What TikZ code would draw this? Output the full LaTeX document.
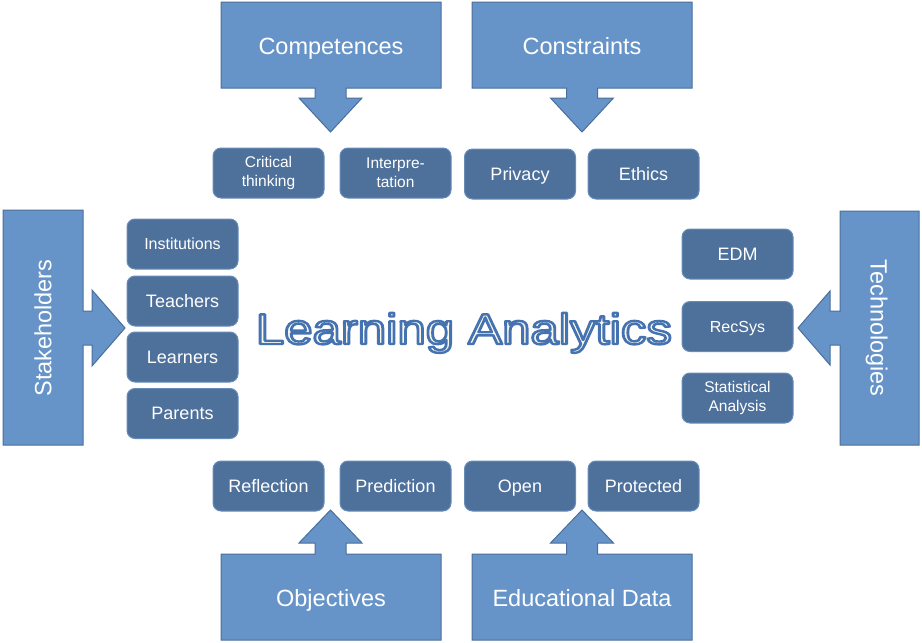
\documentclass[tikz,border=0pt]{standalone}
\usepackage{fontspec}
\setmainfont{Liberation Sans}
\definecolor{callfill}{RGB}{103,148,200}
\definecolor{calldraw}{RGB}{74,110,155}
\definecolor{boxfill}{RGB}{78,113,156}
\definecolor{boxdraw}{RGB}{104,140,185}
\definecolor{latext}{RGB}{250,248,236}
\begin{document}
\begin{tikzpicture}[x=1pt,y=-1pt,
  callout/.style={fill=callfill,draw=calldraw,line width=1pt,line join=miter},
  item/.style={fill=boxfill,draw=boxdraw,rounded corners=8pt,line width=1pt,
    minimum width=111pt,minimum height=50pt,inner sep=0pt,text=white,align=center},
  itemtext/.style={font=\fontsize{18}{18}\selectfont,text height=12.9pt,text depth=0pt},
  itemmid/.style={font=\fontsize{16}{16}\selectfont,text height=11.5pt,text depth=0pt},
  itemsmall/.style={font=\fontsize{15.5}{19}\selectfont},
  bigtext/.style={text=white,font=\fontsize{23.5}{26}\selectfont,inner sep=0pt,
    text height=16.8pt,text depth=0pt}]
\useasboundingbox (0,0) rectangle (922,643);

% ---- callouts ----
% Competences
\path[callout] (221,2) -- (441,2) -- (441,88) -- (346,88) -- (346,98) -- (362,98)
  -- (330.5,132) -- (299,98) -- (315,98) -- (315,88) -- (221,88) -- cycle;
\node[bigtext] (comp) at (331,46) {Competences};
% Constraints
\path[callout] (472,2) -- (692,2) -- (692,88) -- (597.5,88) -- (597.5,98) -- (613.5,98)
  -- (582,132) -- (550.5,98) -- (566.5,98) -- (566.5,88) -- (472,88) -- cycle;
\node[bigtext] (cons) at (582,46) {Constraints};
% Objectives
\path[callout] (221,640) -- (441,640) -- (441,554) -- (346,554) -- (346,543) -- (362,543)
  -- (330.5,510) -- (299,543) -- (315,543) -- (315,554) -- (221,554) -- cycle;
\node[bigtext] (obj) at (331,598) {Objectives};
% Educational Data
\path[callout] (472,640) -- (692,640) -- (692,554) -- (597.5,554) -- (597.5,543) -- (613.5,543)
  -- (582,510) -- (550.5,543) -- (566.5,543) -- (566.5,554) -- (472,554) -- cycle;
\node[bigtext] (edu) at (582,598) {Educational Data};
% Stakeholders
\path[callout] (3,210) -- (83,210) -- (83,311) -- (92,311) -- (92,290) -- (125,328)
  -- (92,366) -- (92,345) -- (83,345) -- (83,445) -- (3,445) -- cycle;
\node[bigtext,rotate=90] (stake) at (43,328) {Stakeholders};
% Technologies
\path[callout] (919,211) -- (840,211) -- (840,311) -- (830,311) -- (830,291) -- (798,328)
  -- (830,365) -- (830,345) -- (840,345) -- (840,445) -- (919,445) -- cycle;
\node[bigtext,rotate=-90] (tech) at (879,328) {Technologies};

% ---- top items ----
\node[item,itemsmall] (crit) at (268.5,173) {Critical\\thinking};
\node[item,itemsmall] (interp) at (395.5,173) {Interpre-\\tation};
\node[item,itemtext] (priv) at (520,174) {Privacy};
\node[item,itemtext] (eth) at (643.5,174) {Ethics};

% ---- bottom items ----
\node[item,itemtext] (refl) at (268.5,486) {Reflection};
\node[item,itemtext] (pred) at (395.5,486) {Prediction};
\node[item,itemtext] (open) at (520,486) {Open};
\node[item,itemtext] (prot) at (643.5,486) {Protected};

% ---- left items ----
\node[item,itemmid] (inst) at (182.5,244) {Institutions};
\node[item,itemtext] (teach) at (182.5,301) {Teachers};
\node[item,itemtext] (learn) at (182.5,357) {Learners};
\node[item,itemtext] (par) at (182.5,413.5) {Parents};

% ---- right items ----
\node[item,itemtext] (edm) at (737.5,254) {EDM};
\node[item,itemmid] (rec) at (737.5,326.5) {RecSys};
\node[item,itemsmall] (stat) at (737.5,398) {Statistical\\Analysis};

% ---- centre title (outlined text) ----
\node[anchor=base,inner sep=0pt] (la) at (464,344)
  {\resizebox{416pt}{\height}{\fontsize{43}{43}\selectfont
   {\color{latext}\special{pdf:code 2 Tr 2.4 w 1 j 0.27 0.45 0.70 RG}%
   Learning Analytics%
   \special{pdf:code 0 Tr}}}};
\end{tikzpicture}
\end{document}
